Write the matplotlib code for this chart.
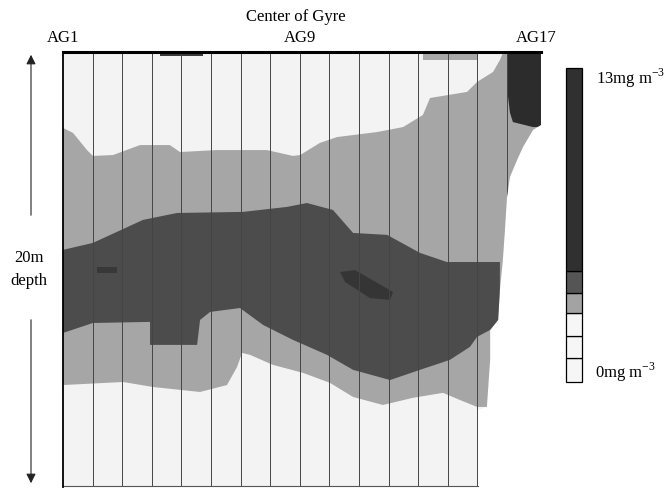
import numpy as np
import matplotlib
matplotlib.use('Agg')
import matplotlib.pyplot as plt
from matplotlib.patches import Polygon

plt.rcParams['font.family'] = ['Liberation Serif', 'DejaVu Serif']
plt.rcParams['mathtext.fontset'] = 'custom'
plt.rcParams['mathtext.rm'] = 'Liberation Serif'

# stations along the transect (AG1..AG17), depth in m (0-20)
stations = np.arange(2, 17)
station_labels = {1: 'AG1', 9: 'AG9', 17: 'AG17'}

# right-hand limit of the sampled section
edge_s = [17.15, 17.15, 16.88, 16.54, 16.34, 16.10, 16.00, 15.93, 15.86, 15.76, 15.70, 15.43, 15.43, 15.32, 15.02, 15.02]
edge_d = [0, 3.36, 3.59, 4.38, 4.98, 5.76, 6.68, 8.20, 9.59, 10.97, 12.35, 12.81, 14.19, 16.36, 16.50, 20.05]

# top of the light grey layer
top_s = [1.00, 1.34, 1.81, 2.01, 2.69, 3.60, 4.61, 4.95, 6.20, 7.89, 8.77, 9.01, 9.68, 10.26, 11.61, 12.49, 13.16, 13.40, 14.65, 14.99, 15.53, 15.76, 15.86]
top_d = [3.50, 3.73, 4.52, 4.79, 4.75, 4.29, 4.29, 4.61, 4.52, 4.52, 4.79, 4.75, 4.19, 3.92, 3.69, 3.46, 2.90, 2.12, 1.84, 1.38, 0.92, 0.37, 0.05]

# bottom of the light grey layer
bot_s = [1.00, 3.03, 4.04, 5.63, 6.54, 6.88, 7.05, 7.32, 8.09, 9.11, 10.02, 10.80, 11.81, 12.82, 13.84, 14.41, 14.99, 15.32]
bot_d = [15.35, 15.21, 15.44, 15.67, 15.35, 14.52, 13.87, 13.96, 14.42, 14.79, 15.25, 15.90, 16.27, 15.94, 15.71, 16.04, 16.36, 16.36]

# dark core layer, upper and lower limits
core_top_s = [1.00, 2.01, 3.70, 4.85, 7.08, 8.57, 9.24, 10.12, 10.80, 11.95, 13.06, 13.97, 15.76]
core_top_d = [9.12, 8.80, 7.74, 7.42, 7.37, 7.14, 6.96, 7.28, 8.34, 8.43, 9.26, 9.68, 9.68]
core_bot_s = [1.00, 2.01, 3.94, 3.94, 5.53, 5.63, 5.97, 6.98, 7.76, 8.77, 9.92, 10.80, 12.05, 13.06, 14.07, 14.75, 14.99, 15.43, 15.76]
core_bot_d = [12.95, 12.49, 12.44, 13.50, 13.50, 12.35, 11.98, 11.80, 12.58, 13.27, 13.96, 14.65, 15.12, 14.65, 14.19, 13.59, 13.13, 12.81, 12.81]

# darkest patches
col_s = [16.03, 17.15, 17.15, 16.88, 16.20, 16.10, 16.03]
col_d = [0, 0, 3.45, 3.46, 3.23, 2.80, 2.00]
blob_s = [10.36, 10.86, 12.15, 12.05, 11.37, 10.53]
blob_d = [10.14, 10.05, 11.06, 11.43, 11.34, 10.60]
spot_s = [2.15, 2.82, 2.82, 2.15]
spot_d = [9.91, 9.91, 10.18, 10.18]

# colour scale blocks (mg m-3)
cbar_edges = [0, 1.0, 1.9, 2.85, 3.7, 4.6, 13]
cbar_colors = ['#f6f6f6', '#f6f6f6', '#f6f6f6', '#a3a3a3', '#555555', '#303030']

c_white = '#f3f3f3'
c_light = '#a6a6a6'
c_dark = '#4c4c4c'
c_darkest = '#2c2c2c'

fig = plt.figure(figsize=(6.65, 4.88), dpi=100)
ax = fig.add_axes([63 / 665, 1 - 487 / 488, 478 / 665, 435 / 488])
x_right = 1 + 478 / 29.6
ax.set_xlim(1, x_right)
ax.set_ylim(20.05, 0)

region = Polygon([(1, 0)] + list(zip(edge_s, edge_d)) + [(1, 20.05)],
                 closed=True, facecolor=c_white, edgecolor='none')
ax.add_patch(region)

light = ax.fill(top_s + [17.3, 17.3] + bot_s[::-1], top_d + [0, 16.36] + bot_d[::-1],
                color=c_light, lw=0)
dark = ax.fill(core_top_s + core_bot_s[::-1], core_top_d + core_bot_d[::-1],
               color=c_dark, lw=0)
deep = ax.fill(col_s, col_d, color=c_darkest, lw=0)
deep += ax.fill(blob_s, blob_d, color='#353535', lw=0)
deep += ax.fill(spot_s, spot_d, color='#383838', lw=0)
deep += ax.fill([4.28, 5.73, 5.73, 4.28], [0, 0, 0.2, 0.2], color='#3a3a3a', lw=0)
deep += ax.fill([13.16, 14.99, 14.99, 13.16], [0, 0, 0.37, 0.37], color='#a8a8a8', lw=0)
for p in light + dark + deep:
    p.set_clip_path(region)

for s in stations:
    ln, = ax.plot([s, s], [0, 20.05], color='#444444', lw=0.7)
    ln.set_clip_path(region)

ax.plot([1, 15.02], [20.0, 20.0], color='#555555', lw=0.8, clip_on=False)

ax.set_xticks([])
ax.set_yticks([])
for side in ['right', 'bottom']:
    ax.spines[side].set_visible(False)
ax.spines['top'].set_linewidth(2.2)
ax.spines['left'].set_linewidth(1.3)

for s, lab in station_labels.items():
    ax.text(s, -0.65, lab, ha='center', va='center', fontsize=12, clip_on=False)
ax.text(8.85, -1.62, 'Center of Gyre', ha='center', va='center', fontsize=12, clip_on=False)

# depth arrow on the left
ax.annotate('', xy=(31 / 665, 1 - 52 / 488), xytext=(31 / 665, 1 - 218 / 488),
            xycoords='figure fraction', textcoords='figure fraction',
            arrowprops=dict(arrowstyle='-|>', lw=0.8, color='#222222', mutation_scale=14))
ax.annotate('', xy=(31 / 665, 1 - 486 / 488), xytext=(31 / 665, 1 - 317 / 488),
            xycoords='figure fraction', textcoords='figure fraction',
            arrowprops=dict(arrowstyle='-|>', lw=0.8, color='#222222', mutation_scale=14))
fig.text(29 / 665, 1 - 258 / 488, '20m', ha='center', va='center', fontsize=12)
fig.text(29 / 665, 1 - 281 / 488, 'depth', ha='center', va='center', fontsize=12)

# colour scale
cax = fig.add_axes([566 / 665, 1 - 382 / 488, 16 / 665, 314 / 488])
bars = cax.bar(0, np.diff(cbar_edges), bottom=cbar_edges[:-1], width=1,
               color=cbar_colors, edgecolor='black', lw=0.9)
for b in bars:
    b.set_clip_on(False)
cax.set_xlim(-0.5, 0.5)
cax.set_ylim(0, 13)
cax.axis('off')
fig.text(596 / 665, 1 - 78 / 488, '13mg m$^{-3}$', ha='left', va='center', fontsize=12)
fig.text(595 / 665, 1 - 372 / 488, '0mg m$^{-3}$', ha='left', va='center', fontsize=12)

fig.savefig('out.png', dpi=100)
